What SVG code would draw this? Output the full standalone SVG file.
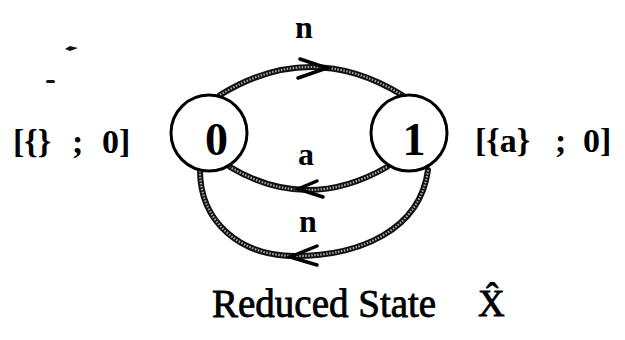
<svg xmlns="http://www.w3.org/2000/svg" width="625" height="340" viewBox="0 0 625 340">
<style>
  .t { font-family: "Liberation Serif", "Times New Roman", serif; fill: #000; }
  .b { font-weight: bold; }
  .cap { stroke: #000; stroke-width: 0.8; }
  .rope { fill: none; stroke: #111; stroke-width: 6; stroke-linecap: round; }
  .bead { fill: none; stroke: #aaa; stroke-width: 2.2; stroke-dasharray: 1.5 1.5; }
  .head { fill: none; stroke: #000; stroke-width: 3.5; stroke-linecap: round; stroke-linejoin: miter; }
  .node { fill: #fff; stroke: #000; stroke-width: 3; }
</style>
<rect width="625" height="340" fill="#fff"/>
<g id="specks" fill="#111">
  <path d="M65,49 L70,46 L78,48 L70,51 Z"/>
  <rect x="46" y="80" width="9" height="3" rx="1.5"/>
</g>
<g id="connectors">
  <path id="e01" class="rope" d="M220,95 Q311,39 402,95"/>
  <path class="bead" d="M220,95 Q311,39 402,95"/>
  <polyline class="head" points="300,59 327,68 298,78"/>
  <path id="e10a" class="rope" d="M387,167 Q307,213 230,167"/>
  <path class="bead" d="M387,167 Q307,213 230,167"/>
  <polyline class="head" points="317,181 298,189 323,197"/>
  <path id="e10n" class="rope" d="M428,170 C420,230 360,256 295,256 C240,256 200,222 200,170"/>
  <path class="bead" d="M428,170 C420,230 360,256 295,256 C240,256 200,222 200,170"/>
  <polyline class="head" points="317,246 290,257 317,265"/>
  <text class="t b" x="304" y="38" font-size="32" text-anchor="middle">n</text>
  <text class="t b" x="306" y="165" font-size="32" text-anchor="middle">a</text>
  <text class="t b" x="308" y="232" font-size="32" text-anchor="middle">n</text>
</g>
<g id="node0">
  <circle class="node" cx="209" cy="133" r="38"/>
  <text class="t b" x="216.5" y="155" font-size="46" text-anchor="middle">0</text>
  <text class="t b" font-size="34" y="153"><tspan x="13">[{}</tspan><tspan x="72">;</tspan><tspan x="102">0]</tspan></text>
</g>
<g id="node1">
  <circle class="node" cx="409" cy="133" r="38"/>
  <text class="t b" x="414" y="155" font-size="46" text-anchor="middle">1</text>
  <text class="t b" font-size="34" y="152"><tspan x="475">[{a}</tspan><tspan x="555">;</tspan><tspan x="583">0]</tspan></text>
</g>
<g id="caption">
  <text class="t cap" x="212" y="317" font-size="39">Reduced State</text>
  <text class="t cap" x="478" y="316" font-size="37">X̂</text>
</g>
</svg>
